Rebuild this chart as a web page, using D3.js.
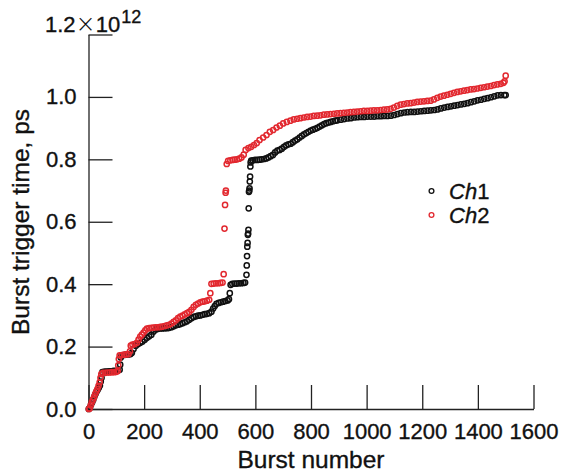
<!DOCTYPE html>
<html>
<head>
<meta charset="utf-8">
<script src="https://cdn.jsdelivr.net/npm/d3@7"></script>
<style>
  body { margin: 0; background: #fff; }
  svg { display: block; }
  text { font-family: "Liberation Sans", Arial, Helvetica, sans-serif; fill: #111; stroke: #111; stroke-width: 0.35px; }
</style>
</head>
<body>
<svg id="chart" width="562" height="473"></svg>
<script>
// ---- data (time in units of 1e12 ps) ----
const xTicks = [0, 200, 400, 600, 800, 1000, 1200, 1400, 1600];
const yTicks = [0.0, 0.2, 0.4, 0.6, 0.8, 1.0, 1.2];
const seriesNames = ["Ch1", "Ch2"];

const ch1Burst = [1,5,9,13,17,21,25,29,33,37,41,44,47,50,58,66,74,82,90,98,106,112,114,116,119,127,135,143,151,156,162,170,178,186,194,202,210,218,226,234,242,250,258,266,274,282,290,298,306,314,322,330,338,346,354,362,370,378,386,394,402,410,418,426,434,442,448,454,460,468,476,484,492,500,505,508,511,517,525,533,541,549,557,563,568,569,570,571,572,573,574,575,576,577,578,579,580,581,582,583,585,591,599,607,615,623,631,639,647,655,663,671,679,687,695,703,711,719,727,735,743,751,759,767,775,783,791,799,807,815,823,831,839,847,855,863,871,879,887,895,907,919,931,943,955,967,979,991,1003,1015,1027,1039,1051,1063,1075,1087,1099,1111,1123,1135,1147,1159,1171,1183,1195,1207,1219,1231,1243,1255,1267,1279,1291,1303,1315,1327,1339,1351,1363,1375,1387,1399,1411,1423,1435,1447,1459,1471,1483,1495,1500];
const ch1Time = [0.000,0.004,0.014,0.022,0.030,0.040,0.048,0.056,0.062,0.068,0.075,0.088,0.100,0.118,0.120,0.120,0.121,0.121,0.122,0.122,0.123,0.126,0.142,0.165,0.172,0.173,0.174,0.175,0.176,0.180,0.192,0.203,0.208,0.212,0.216,0.222,0.228,0.233,0.238,0.248,0.255,0.257,0.258,0.258,0.259,0.259,0.260,0.262,0.265,0.268,0.270,0.272,0.275,0.278,0.281,0.286,0.291,0.295,0.297,0.299,0.300,0.302,0.304,0.305,0.307,0.312,0.322,0.330,0.337,0.340,0.342,0.344,0.346,0.348,0.352,0.371,0.398,0.401,0.402,0.402,0.403,0.403,0.404,0.405,0.430,0.460,0.490,0.520,0.532,0.558,0.562,0.574,0.643,0.696,0.700,0.707,0.729,0.745,0.777,0.790,0.796,0.797,0.798,0.798,0.799,0.800,0.801,0.803,0.806,0.810,0.814,0.822,0.828,0.830,0.834,0.840,0.845,0.848,0.850,0.855,0.860,0.864,0.870,0.875,0.880,0.884,0.888,0.892,0.895,0.898,0.901,0.905,0.909,0.913,0.916,0.918,0.920,0.922,0.924,0.925,0.927,0.929,0.931,0.932,0.934,0.935,0.936,0.936,0.937,0.937,0.937,0.938,0.938,0.939,0.939,0.940,0.942,0.945,0.948,0.950,0.951,0.952,0.952,0.953,0.954,0.955,0.956,0.957,0.958,0.960,0.963,0.966,0.968,0.970,0.972,0.974,0.976,0.978,0.980,0.983,0.986,0.989,0.991,0.994,0.996,0.999,1.002,1.005,1.006,1.006,1.006];

const ch2Burst = [1,4,8,12,16,20,24,28,32,36,40,43,46,52,60,68,76,84,92,100,105,107,109,112,120,128,136,144,149,152,158,166,174,180,186,192,198,204,210,218,226,234,242,250,258,266,274,282,290,298,306,314,322,330,338,346,354,362,370,378,386,394,402,410,418,426,434,438,442,450,458,466,474,482,486,489,491,493,494,497,502,510,518,526,534,542,550,558,565,575,585,595,605,615,628,640,652,664,676,688,700,713,726,738,750,762,774,786,798,810,822,834,846,858,870,882,894,906,918,930,942,954,966,978,990,1002,1014,1026,1038,1050,1062,1074,1086,1098,1110,1122,1134,1146,1158,1170,1182,1194,1206,1218,1230,1242,1254,1266,1278,1290,1302,1314,1326,1338,1350,1362,1374,1386,1398,1410,1422,1434,1446,1458,1470,1482,1492,1496,1500];
const ch2Time = [0.000,0.002,0.012,0.022,0.030,0.038,0.048,0.056,0.064,0.074,0.085,0.100,0.112,0.116,0.116,0.117,0.117,0.118,0.118,0.119,0.122,0.140,0.160,0.172,0.173,0.174,0.175,0.176,0.185,0.203,0.206,0.208,0.212,0.222,0.232,0.238,0.245,0.252,0.258,0.259,0.260,0.261,0.262,0.262,0.263,0.264,0.266,0.268,0.270,0.274,0.279,0.284,0.291,0.296,0.299,0.303,0.307,0.311,0.318,0.327,0.334,0.338,0.342,0.344,0.345,0.347,0.350,0.371,0.401,0.402,0.403,0.403,0.404,0.405,0.432,0.578,0.654,0.693,0.700,0.785,0.795,0.797,0.798,0.799,0.800,0.802,0.806,0.815,0.830,0.836,0.840,0.846,0.852,0.862,0.870,0.878,0.888,0.894,0.902,0.908,0.915,0.920,0.924,0.928,0.930,0.932,0.934,0.936,0.937,0.939,0.940,0.941,0.943,0.944,0.945,0.946,0.947,0.948,0.949,0.950,0.951,0.952,0.953,0.954,0.955,0.955,0.956,0.957,0.957,0.958,0.959,0.960,0.962,0.966,0.971,0.975,0.977,0.979,0.980,0.982,0.984,0.985,0.986,0.987,0.988,0.992,0.997,1.001,1.004,1.007,1.010,1.013,1.016,1.018,1.020,1.022,1.024,1.025,1.027,1.029,1.031,1.033,1.035,1.038,1.040,1.042,1.045,1.050,1.068];

// ---- drawing ----
const svg = d3.select("#chart");
const x = d3.scaleLinear().domain([0, 1600]).range([88.5, 533.5]);
const y = d3.scaleLinear().domain([0, 1.2]).range([409, 34.5]);
const colors = ["#111111", "#e2282f"];
const font = 22;
const titleFont = 24.5;

// axes
const yAxis = d3.axisLeft(y).tickValues(yTicks).tickSizeInner(-24).tickSizeOuter(0).tickPadding(12)
  .tickFormat(d => d === 1.2 ? "" : d3.format(".1f")(d));
const xAxis = d3.axisBottom(x).tickValues(xTicks).tickSizeInner(-24).tickSizeOuter(0).tickPadding(14)
  .tickFormat(d3.format("d"));

const gy = svg.append("g").attr("transform", `translate(${x(0)},0)`).call(yAxis);
const gx = svg.append("g").attr("transform", `translate(0,${y(0)})`).call(xAxis);
[gx, gy].forEach(g => {
  g.selectAll("path, line").attr("stroke", "#222").attr("stroke-width", 1.3);
  g.selectAll("text").style("font-size", font + "px").style("font-family", '"Liberation Sans", Arial, sans-serif')
    .attr("fill", "#111").attr("stroke", "#111").attr("stroke-width", 0.35);
});
// remove the empty label of the 1.2 tick (its label is drawn with the exponent below)
gy.selectAll(".tick text").filter(d => d === 1.2).remove();

// exponent label at top: one text with tspans
const ex = svg.append("text").attr("x", 45).attr("y", 32).style("font-size", font + "px");
ex.append("tspan").text("1.2");
ex.append("tspan").style("font-family", '"DejaVu Sans", sans-serif').style("font-size", "24px")
  .style("stroke-width", "0px").style("font-weight", "200").text("×");
ex.append("tspan").text("10");
ex.append("tspan").attr("dy", -9).attr("dx", 1).style("font-size", "18px").text("12");

// axis titles
svg.append("text").attr("x", 311).attr("y", 468).attr("text-anchor", "middle").style("font-size", titleFont + "px").text("Burst number");
svg.append("text").attr("transform", "translate(29,222) rotate(-90)").attr("text-anchor", "middle").style("font-size", titleFont + "px").text("Burst trigger time, ps");

// points
const series = [
  { name: seriesNames[0], bursts: ch1Burst, times: ch1Time, color: colors[0] },
  { name: seriesNames[1], bursts: ch2Burst, times: ch2Time, color: colors[1] }
];
series.forEach(s => {
  svg.append("g").selectAll("circle")
    .data(s.bursts.map((b, i) => [b, s.times[i]]))
    .join("circle")
    .attr("cx", d => x(d[0]))
    .attr("cy", d => y(d[1]))
    .attr("r", 2.6)
    .attr("fill", "none")
    .attr("stroke", s.color)
    .attr("stroke-width", 1.5);
});

// legend
const leg = svg.append("g");
series.forEach((s, i) => {
  const yy = 191 + i * 24;
  leg.append("circle").attr("cx", 431.5).attr("cy", yy).attr("r", 2.4)
    .attr("fill", "none").attr("stroke", s.color).attr("stroke-width", 1.3);
  const t = leg.append("text").attr("x", 449).attr("y", yy + 7.5).style("font-size", font + "px");
  t.append("tspan").style("font-style", "italic").text(s.name.slice(0, 2));
  t.append("tspan").text(s.name.slice(2));
});
</script>
</body>
</html>
